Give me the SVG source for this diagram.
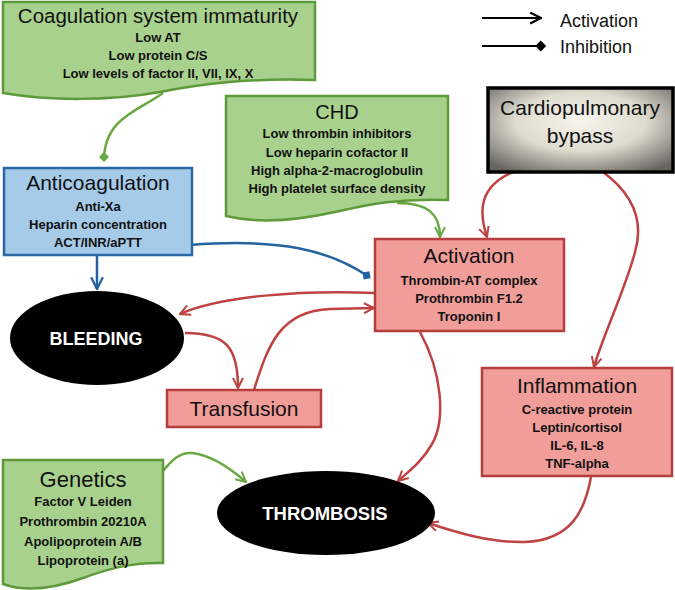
<svg xmlns="http://www.w3.org/2000/svg" width="675" height="590" viewBox="0 0 675 590">
<defs>
<style>
text{font-family:"Liberation Sans",Arial,sans-serif;text-anchor:middle;fill:#111}
.t{font-size:21px}
.s{font-size:13px;font-weight:bold}
.green{fill:#a9d18e;stroke:#5e9a3a;stroke-width:2.5}
.red{fill:#f19d9a;stroke:#b53f3d;stroke-width:2.5}
.blue{fill:#a6cbe9;stroke:#2b69a6;stroke-width:2.5}
.ell{fill:#000}
.wt{fill:#fff;font-size:18.5px;font-weight:bold}
.c{fill:none;stroke-width:2.5}
.cr{stroke:#bf4242}
.cg{stroke:#6aa842}
.cb{stroke:#2462a0}
.ck{stroke:#000;stroke-width:2.2}
.leg{font-size:18px;text-anchor:start}
</style>
<marker id="ar" viewBox="0 0 12 12" refX="11" refY="6" markerWidth="12" markerHeight="12" markerUnits="userSpaceOnUse" orient="auto"><path d="M1,1 L11,6 L1,11" fill="none" stroke="#bf4242" stroke-width="2"/></marker>
<marker id="ag" viewBox="0 0 12 12" refX="11" refY="6" markerWidth="12" markerHeight="12" markerUnits="userSpaceOnUse" orient="auto"><path d="M1,1 L11,6 L1,11" fill="none" stroke="#6aa842" stroke-width="2"/></marker>
<marker id="ab" viewBox="0 0 12 12" refX="11" refY="6" markerWidth="14" markerHeight="14" markerUnits="userSpaceOnUse" orient="auto"><path d="M1,1 L11,6 L1,11" fill="none" stroke="#2462a0" stroke-width="2"/></marker>
<marker id="ak" viewBox="0 0 12 12" refX="11" refY="6" markerWidth="13" markerHeight="13" markerUnits="userSpaceOnUse" orient="auto"><path d="M1,1 L11,6 L1,11" fill="none" stroke="#000" stroke-width="2"/></marker>
<marker id="dg" viewBox="0 0 12 12" refX="9" refY="6" markerWidth="12" markerHeight="12" markerUnits="userSpaceOnUse" orient="auto"><path d="M1,6 L6,1 L11,6 L6,11 Z" fill="#6aa842"/></marker>
<marker id="db" viewBox="0 0 12 12" refX="9" refY="6" markerWidth="12" markerHeight="12" markerUnits="userSpaceOnUse" orient="auto"><path d="M1,6 L6,1 L11,6 L6,11 Z" fill="#2462a0"/></marker>
<marker id="dk" viewBox="0 0 12 12" refX="9" refY="6" markerWidth="13" markerHeight="13" markerUnits="userSpaceOnUse" orient="auto"><path d="M1,6 L6,1 L11,6 L6,11 Z" fill="#000"/></marker>
<radialGradient id="cpb" cx="0.5" cy="0.4" r="0.7">
<stop offset="0" stop-color="#f7f5ec"/>
<stop offset="0.5" stop-color="#dedbcf"/>
<stop offset="1" stop-color="#65645f"/>
</radialGradient>
</defs>
<rect width="675" height="590" fill="#fff"/>

<g id="legend">
<path class="c ck" d="M482,18 L541,18" marker-end="url(#ak)"/>
<text class="leg" x="560" y="27">Activation</text>
<path class="c ck" d="M482,46 L544,46" marker-end="url(#dk)"/>
<text class="leg" x="560" y="53">Inhibition</text>
</g>

<g id="connectors">
<path class="c cg" d="M163,93 C140,110 104,118 104,160" marker-end="url(#dg)"/>
<path class="c cb" d="M97,256 L97,289" marker-end="url(#ab)"/>
<path class="c cb" d="M190,245 C280,238 330,250 369,277" marker-end="url(#db)"/>
<path class="c cg" d="M397,203 C428,203 440,214 440,237" marker-end="url(#ag)"/>
<path class="c cr" d="M513,172 C480,186 478,210 487,237" marker-end="url(#ar)"/>
<path class="c cr" d="M603,172 C630,192 645,218 635,252 C625,290 602,338 594,367" marker-end="url(#ar)"/>
<path class="c cr" d="M375,293 C300,290 222,296 180,314" marker-end="url(#ar)"/>
<path class="c cr" d="M185,333 C226,333 238,347 238,388" marker-end="url(#ar)"/>
<path class="c cr" d="M254,390 C268,345 280,311 330,309 L374,308" marker-end="url(#ar)"/>
<path class="c cr" d="M420,332 C442,372 446,420 432,444 C422,462 408,472 398,481" marker-end="url(#ar)"/>
<path class="c cr" d="M591,477 C585,510 572,540 525,542 C490,543 455,532 428,523" marker-end="url(#ar)"/>
<path class="c cg" d="M163,471 C172,460 180,452 192,453 C212,455 230,468 246,482" marker-end="url(#ag)"/>
</g>

<g id="coagulation">
<path class="green" d="M3,2 H315 V80 C245,78 200,84 160,92 C110,101 50,101 3,93 Z"/>
<text class="t" x="158" y="23" style="font-size:20.5px">Coagulation system immaturity</text>
<text class="s" x="158" y="42">Low AT</text>
<text class="s" x="158" y="60">Low protein C/S</text>
<text class="s" x="158" y="78">Low levels of factor II, VII, IX, X</text>
</g>

<g id="chd">
<path class="green" d="M226,96 H448 V200 C400,198 370,204 335,212 C290,222 255,223 226,216 Z"/>
<text class="t" x="337" y="119" style="font-size:20px">CHD</text>
<text class="s" x="337" y="138">Low thrombin inhibitors</text>
<text class="s" x="337" y="157">Low heparin cofactor II</text>
<text class="s" x="337" y="175">High alpha-2-macroglobulin</text>
<text class="s" x="337" y="193">High platelet surface density</text>
</g>

<g id="cpb-node">
<rect x="488" y="88" width="185" height="84" fill="url(#cpb)" stroke="#000" stroke-width="3.5"/>
<text class="t" x="580" y="115">Cardiopulmonary</text>
<text class="t" x="580" y="143">bypass</text>
</g>

<g id="anticoagulation">
<rect class="blue" x="4" y="168" width="188" height="87"/>
<text class="t" x="98" y="190">Anticoagulation</text>
<text class="s" x="98" y="211">Anti-Xa</text>
<text class="s" x="98" y="229">Heparin concentration</text>
<text class="s" x="98" y="247">ACT/INR/aPTT</text>
</g>

<g id="activation">
<rect class="red" x="375" y="239" width="189" height="92"/>
<text class="t" x="469" y="263">Activation</text>
<text class="s" x="469" y="285">Thrombin-AT complex</text>
<text class="s" x="469" y="303">Prothrombin F1.2</text>
<text class="s" x="469" y="321">Troponin I</text>
</g>

<g id="bleeding">
<ellipse class="ell" cx="97" cy="338" rx="87" ry="47"/>
<text class="wt" x="96" y="345" style="font-size:18px">BLEEDING</text>
</g>

<g id="transfusion">
<rect class="red" x="167" y="390" width="154" height="37"/>
<text class="t" x="244" y="416">Transfusion</text>
</g>

<g id="inflammation">
<rect class="red" x="482" y="368" width="190" height="108"/>
<text class="t" x="577" y="393">Inflammation</text>
<text class="s" x="577" y="414">C-reactive protein</text>
<text class="s" x="577" y="432">Leptin/cortisol</text>
<text class="s" x="577" y="450">IL-6, IL-8</text>
<text class="s" x="577" y="468">TNF-alpha</text>
</g>

<g id="genetics">
<path class="green" d="M3,460 H163 V563 C130,562 105,570 83,578 C50,590 25,592 3,584 Z"/>
<text class="t" x="83" y="487" style="font-size:22px">Genetics</text>
<text class="s" x="83" y="506">Factor V Leiden</text>
<text class="s" x="83" y="526">Prothrombin 20210A</text>
<text class="s" x="83" y="546">Apolipoprotein A/B</text>
<text class="s" x="83" y="565">Lipoprotein (a)</text>
</g>

<g id="thrombosis">
<ellipse class="ell" cx="326" cy="513" rx="109" ry="42"/>
<text class="wt" x="325" y="520">THROMBOSIS</text>
</g>
</svg>
